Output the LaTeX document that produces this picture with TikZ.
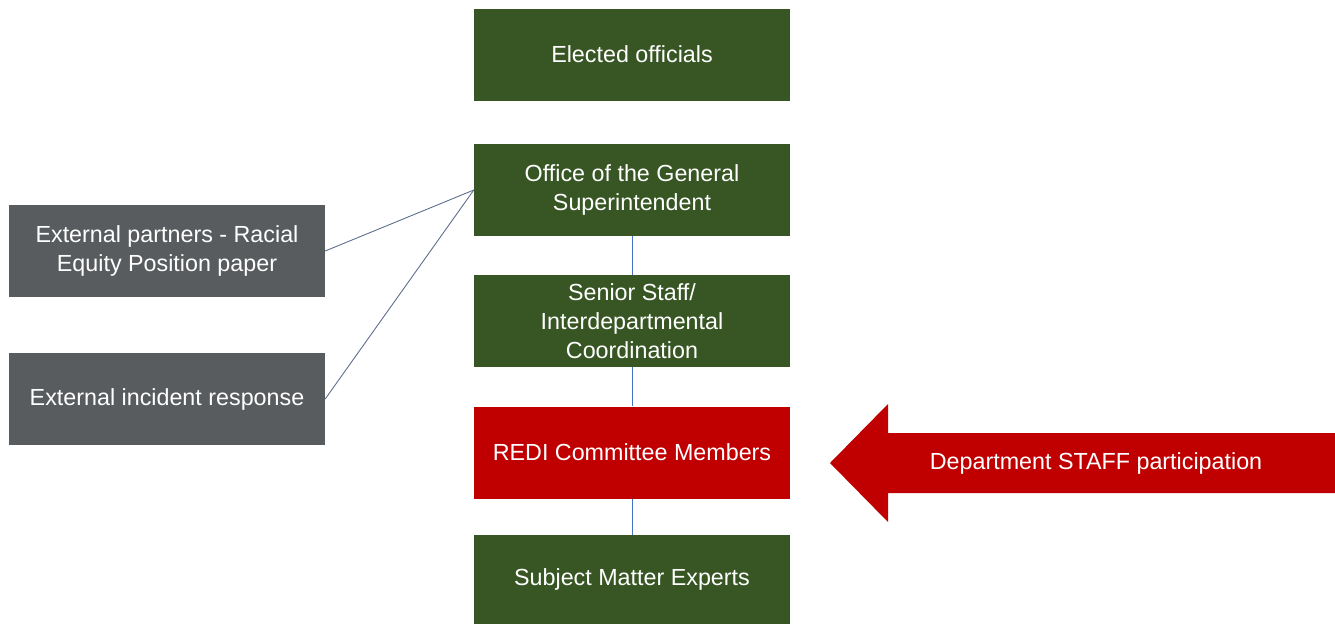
\documentclass[tikz,border=0pt]{standalone}
\usepackage{fontspec}
\setmainfont{Liberation Sans}
\definecolor{boxgreen}{HTML}{375623}
\definecolor{boxgray}{HTML}{595C5E}
\definecolor{boxred}{HTML}{C00000}
\definecolor{linkblue}{HTML}{4472C4}
\definecolor{linkgray}{HTML}{5E6E8C}
\begin{document}
\begin{tikzpicture}[x=1pt,y=-1pt,
  orgbox/.style={rectangle, fill=boxgreen, text=white, minimum width=316pt, minimum height=92pt,
    inner sep=0pt, align=center, font=\fontsize{23.3}{29}\selectfont},
  sidebox/.style={orgbox, fill=boxgray},
  redbox/.style={orgbox, fill=boxred},
  vlink/.style={draw=linkblue, line width=0.9pt},
  slink/.style={draw=linkgray, line width=0.9pt},
  arrowlabel/.style={text=white, font=\fontsize{23.3}{29}\selectfont, inner sep=0pt}]
\useasboundingbox (0,0) rectangle (1335,624);
\node[orgbox] (elected) at (632,54.5) {Elected officials};
\node[orgbox] (office) at (632,190) {Office of the General\\Superintendent};
\node[orgbox] (senior) at (632,321) {Senior Staff/\\Interdepartmental\\Coordination};
\node[redbox] (redi) at (632,452.5) {REDI Committee Members};
\node[orgbox, minimum height=89pt] (sme) at (632,579.5) {Subject Matter Experts};
\node[sidebox] (partners) at (167,251) {External partners - Racial\\Equity Position paper};
\node[sidebox] (incident) at (167,399) {External incident response};
\draw[vlink] (office.south) -- (senior.north);
\draw[vlink] (senior.south) -- (redi.north);
\draw[vlink] (redi.south) -- (sme.north);
\draw[slink] (office.west) -- (partners.east);
\draw[slink] (office.west) -- (incident.east);
\coordinate (tip) at (830,463);
\fill[boxred] (tip) -- (888,404) -- (888,433) -- (1335,433) -- (1335,493) -- (888,493) -- (888,522) -- cycle;
\node[arrowlabel] (staff) at (1096,463) {Department STAFF participation};
\end{tikzpicture}
\end{document}
